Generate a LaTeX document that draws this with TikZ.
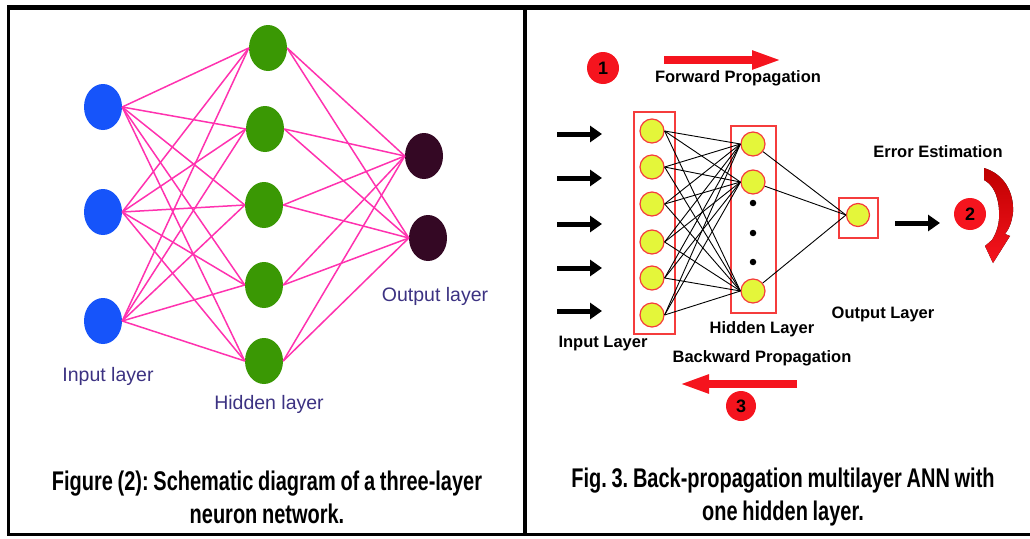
\documentclass[tikz,border=0pt]{standalone}
\usepackage{fontspec}
\setmainfont{Liberation Sans}
\newfontfamily\capfont[FakeStretch=0.74,WordSpace=0.85]{Liberation Sans}
\usetikzlibrary{arrows.meta,positioning,shapes.geometric}
\definecolor{inblue}{RGB}{22,84,250}
\definecolor{hidgreen}{RGB}{58,152,4}
\definecolor{outplum}{RGB}{52,8,36}
\definecolor{linkpink}{RGB}{255,50,175}
\definecolor{lblnavy}{RGB}{60,50,130}
\definecolor{unityellow}{RGB}{228,246,58}
\definecolor{boxred}{RGB}{245,60,60}
\definecolor{signred}{RGB}{245,20,30}
\tikzset{
  neuron/.style={ellipse,inner sep=0pt,minimum width=38pt,minimum height=46pt},
  inode/.style={neuron,fill=inblue},
  hnode/.style={neuron,fill=hidgreen},
  onode/.style={neuron,fill=outplum},
  link/.style={draw=linkpink,line width=1.5pt},
  lbl/.style={text=lblnavy,font=\fontsize{19.5}{22}\selectfont,inner sep=0pt},
  caption/.style={align=center,inner sep=0pt,
    font=\capfont\bfseries\frenchspacing\fontsize{27}{33}\selectfont},
  unit/.style={circle,draw=boxred,fill=unityellow,line width=1.2pt,
    inner sep=0pt,minimum size=24pt},
  layerbox/.style={rectangle,draw=boxred,line width=1.2pt,inner sep=0pt},
  wire/.style={draw=black,line width=0.9pt},
  tag/.style={font=\bfseries\fontsize{16.5}{19}\selectfont,inner sep=0pt},
  num/.style={circle,fill=signred,inner sep=0pt,minimum size=32pt,
    font=\bfseries\fontsize{18}{20}\selectfont},
  dotnode/.style={circle,fill=black,inner sep=0pt,minimum size=6.5pt},
  inarrow/.style={line width=5pt,-{Triangle[length=12pt,width=16pt]}},
  redarrow/.style={signred,line width=7.5pt,-{Triangle[length=30pt,width=17pt]}},
}
\begin{document}
\begin{tikzpicture}[x=1pt,y=-1pt]
\useasboundingbox (0,0) rectangle (1030,538);
% frame
\draw[line width=4.5pt] (7,7.5) -- (1030,7.5);
\draw[line width=3.5pt] (8.5,5) -- (8.5,536);
\draw[line width=4pt] (525,5) -- (525,536);
\draw[line width=3pt] (7,534.5) -- (1030,534.5);

% left: three-layer network
\foreach \i/\y in {1/107,2/212,3/321}
  \node[inode] (i\i) at (103,\y) {};
\foreach \i/\x/\y in {1/268/48,2/265/129,3/264/205,4/264/285,5/264/361}
  \node[hnode] (h\i) at (\x,\y) {};
\node[onode] (o1) at (424,156) {};
\node[onode] (o2) at (428,238) {};

\foreach \a in {1,2,3}
  \foreach \b in {1,...,5}
    \draw[link] (i\a.east) -- (h\b.west);
\foreach \b in {1,...,5}
  \foreach \c in {1,2}
    \draw[link] (h\b.east) -- (o\c.west);

\node[lbl] (linp) at (108,376) {Input layer};
\node[lbl] (lhid) at (269,404) {Hidden layer};
\node[lbl] (lout) at (435,296) {Output layer};

\node[caption] (cap1) at (267,497)
  {Figure (2): Schematic diagram of a three-layer\\neuron network.};

% right: back-propagation
\node[layerbox,minimum width=41pt,minimum height=222pt] (inbox) at (654.5,223) {};
\node[layerbox,minimum width=45pt,minimum height=187pt] (hidbox) at (753.5,219.5) {};
\node[layerbox,minimum width=39pt,minimum height=40pt] (outbox) at (858.5,218) {};

\foreach \i/\y in {1/131,2/167,3/204,4/242,5/278,6/315}
  \node[unit] (a\i) at (652,\y) {};
\foreach \j/\y in {1/144,2/182,3/291}
  \node[unit] (b\j) at (753,\y) {};
\foreach \k/\y in {1/203,2/233,3/262}
  \node[dotnode] (d\k) at (753,\y) {};
\node[unit,minimum size=23pt] (y) at (858,215) {};

\foreach \i in {1,...,6}
  \foreach \j in {1,2,3}
    \draw[wire] (a\i.east) -- (b\j.west);
\foreach \j in {1,2,3}
  \draw[wire] (b\j) -- (y.west);

% input arrows
\foreach \i/\y in {1/134,2/178,3/224,4/268,5/311} {
  \coordinate (s\i) at (557,\y);
  \coordinate (t\i) at (602,\y);
  \draw[inarrow] (s\i) -- (t\i);
}

% steps
\node[num] (n1) at (603,68) {1};
\coordinate (fwda) at (664,60);
\coordinate (fwdb) at (782,60);
\draw[redarrow] (fwda) -- (fwdb);
\node[tag] (tfwd) at (738,78) {Forward Propagation};

\coordinate (erra) at (895,223);
\coordinate (errb) at (940,223);
\draw[inarrow] (erra) -- (errb);
\node[num] (n2) at (970,214) {2};
\node[tag] (terr) at (938,152) {Error Estimation};
\fill[top color=red!75!black,bottom color=signred]
  (984,168) .. controls (1004,174) and (1014,192) .. (1013,212)
  .. controls (1012,222) and (1009,229) .. (1005,234)
  -- (1010,236) -- (993,263) -- (985,246) -- (992,240)
  .. controls (997,232) and (1000,222) .. (999,210)
  .. controls (998,194) and (992,184) .. (984,180) -- cycle;

\node[tag] (tin) at (603,344) {Input Layer};
\node[tag] (thid) at (762,329) {Hidden Layer};
\node[tag] (tout) at (883,314) {Output Layer};
\node[tag] (tbwd) at (762,358) {Backward Propagation};
\coordinate (bwda) at (797,384);
\coordinate (bwdb) at (679,384);
\draw[redarrow] (bwda) -- (bwdb);
\node[num,minimum size=30pt] (n3) at (741,406) {3};

\node[caption] (cap2) at (783,497)
  {Fig. 3. Back-propagation multilayer ANN with\\one hidden layer.};
\end{tikzpicture}
\end{document}
